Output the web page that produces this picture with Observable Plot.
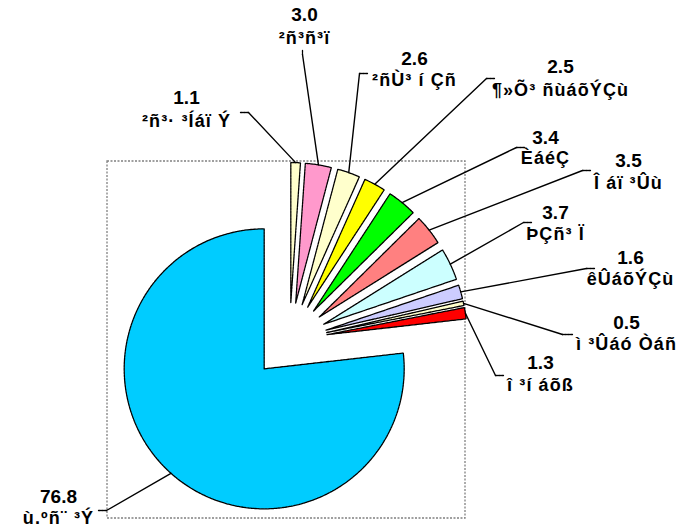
<!DOCTYPE html>
<html>
<head>
<meta charset="utf-8">
<script src="https://cdn.jsdelivr.net/npm/d3@7"></script>
<script src="https://cdn.jsdelivr.net/npm/@observablehq/plot@0.6"></script>
<style>
  html, body { margin: 0; padding: 0; background: #fff; }
  #chart svg { display: block; }
  #chart svg g[aria-label="text"]:last-of-type text { letter-spacing: 1.1px; }
</style>
</head>
<body>
<div id="chart"></div>
<script>
// ---- data ----
const categories = ["²ñ³· ³Íáï Ý", "²ñ³ñ³ï", "²ñÙ³ í Çñ", "¶»Õ³ ñùáõÝÇù", "ÈáéÇ", "Î áï ³Ûù", "ÞÇñ³ Ï", "êÛáõÝÇù", "ì ³Ûáó Òáñ", "î ³í áõß", "ù.ºñ¨ ³Ý"];
const values = [1.1, 3.0, 2.6, 2.5, 3.4, 3.5, 3.7, 1.6, 0.5, 1.3, 76.8];
const valueLabels = ["1.1", "3.0", "2.6", "2.5", "3.4", "3.5", "3.7", "1.6", "0.5", "1.3", "76.8"];
const colors = ["#FFFFCC", "#FF99CC", "#FFFFCC", "#FFFF00", "#00FF00", "#FF8080", "#CCFFFF", "#CCCCFF", "#FFFFCC", "#FF0000", "#00CCFF"];

// ---- layout (pixels) ----
const W = 681, H = 531;
const cx = 289, cy = 340, R = 140, EXPLODE = 38;
const box = {x1: 107, x2: 465, y1: 161, y2: 518};
// label centre x, value-line y, name-line y
const labelPos = [
  [186, 97, 121], [304, 14, 38], [414, 58, 80], [560, 66, 90], [545, 137, 158],
  [628, 160, 183], [555, 212, 234], [630, 257, 279], [626, 322, 344], [540, 362, 385], [58, 496, 518]
];
// leader start at label, end of short horizontal tick
const leaderStart = [
  [[240, 112], [248, 112]], [[302, 50], [302, 54]], [[367, 73], [359, 73]], [[494, 78], [486, 78]],
  [[524, 147], [516, 147]], [[590, 170], [582, 170]], [[531, 222], [523, 222]], [[594, 268], [586, 268]],
  [[572, 334], [562, 334]], [[503, 375], [495, 375]], [[98, 510], [106, 510]]
];

const pie = d3.pie().sort(null).value(d => d)(values);

const marks = [];
marks.push(Plot.rect([box], {x1: "x1", x2: "x2", y1: "y1", y2: "y2", fill: "none", stroke: "#808080", strokeWidth: 1.3, strokeDasharray: "2,1.5"}));

pie.forEach((p, i) => {
  const s = p.startAngle, e = p.endAngle, m = (s + e) / 2;
  const ox = cx + EXPLODE * Math.sin(m), oy = cy - EXPLODE * Math.cos(m);
  const pts = [{x: ox, y: oy}];
  const n = Math.max(2, Math.ceil((e - s) / 0.02));
  for (let k = 0; k <= n; k++) {
    const a = s + (e - s) * k / n;
    pts.push({x: ox + R * Math.sin(a), y: oy - R * Math.cos(a)});
  }
  pts.push({x: ox, y: oy});
  marks.push(Plot.line(pts, {x: "x", y: "y", fill: colors[i], stroke: "#000", strokeWidth: 1.3, strokeDasharray: "2.5,0.8", strokeLinejoin: "miter"}));
});

pie.forEach((p, i) => {
  const m = (p.startAngle + p.endAngle) / 2;
  const end = {x: cx + (R + EXPLODE) * Math.sin(m), y: cy - (R + EXPLODE) * Math.cos(m)};
  const [a, b] = leaderStart[i];
  marks.push(Plot.line([{x: a[0], y: a[1]}, {x: b[0], y: b[1]}], {x: "x", y: "y", stroke: "#000", strokeWidth: 1.3, strokeDasharray: "2,1"}));
  marks.push(Plot.line([{x: b[0], y: b[1]}, end], {x: "x", y: "y", stroke: "#000", strokeWidth: 1.4}));
});

const labels = values.map((v, i) => ({v: valueLabels[i], name: categories[i], x: labelPos[i][0], y1: labelPos[i][1], y2: labelPos[i][2]}));
const font = "'Liberation Sans', Arial, sans-serif";
marks.push(Plot.text(labels, {x: "x", y: "y1", text: "v", fontSize: 19, fontWeight: "bold", fontFamily: font, fill: "#000", textAnchor: "middle", lineAnchor: "middle"}));
marks.push(Plot.text(labels, {x: "x", y: "y2", text: "name", fontSize: 18, fontWeight: "bold", fontFamily: font, fill: "#000", textAnchor: "middle", lineAnchor: "middle"}));

const chart = Plot.plot({
  width: W, height: H,
  margin: 0,
  x: {domain: [0, W], range: [0, W], axis: null},
  y: {domain: [0, H], range: [0, H], axis: null},
  style: {background: "#fff", overflow: "visible"},
  marks
});
document.getElementById("chart").appendChild(chart);
</script>
</body>
</html>
